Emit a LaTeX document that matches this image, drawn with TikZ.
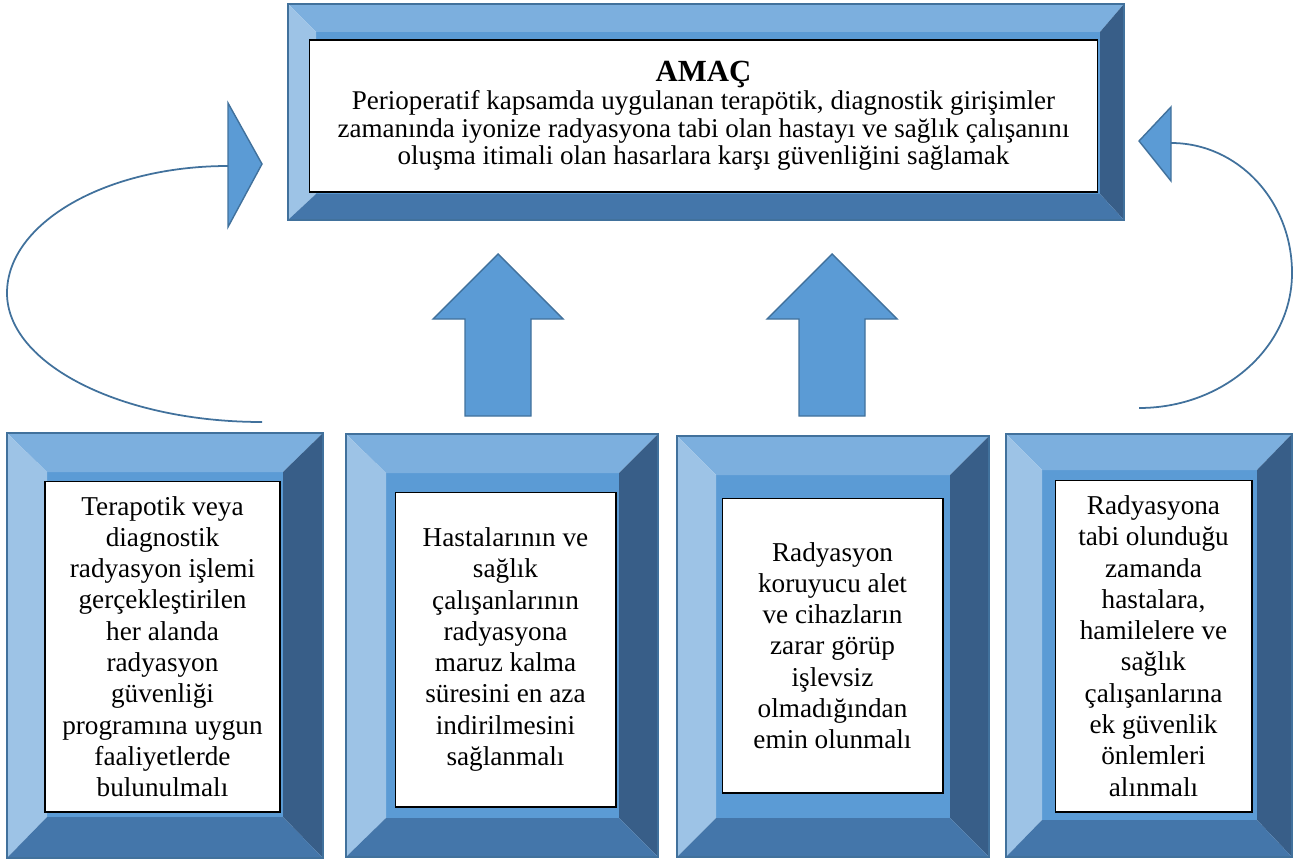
\documentclass[tikz,border=0pt]{standalone}
\usepackage{fontspec}
\setmainfont{Liberation Serif}

\definecolor{bvTop}{RGB}{124,175,222}
\definecolor{bvLeft}{RGB}{157,195,230}
\definecolor{bvRight}{RGB}{56,94,136}
\definecolor{bvBot}{RGB}{68,118,170}
\definecolor{bvIn}{RGB}{91,155,213}
\definecolor{edgeBlue}{RGB}{65,113,156}

\tikzset{
    txtbox/.style={draw=black,fill=white,line width=0.6pt,align=center,inner sep=0pt,
        font=\fontsize{15.5}{17.8}\selectfont},
    blockarrow/.style={fill=bvIn,draw=edgeBlue,line width=0.8pt},
    loopline/.style={draw=edgeBlue,line width=1pt},
}

% outer x1 y1 x2 y2, inner x1 y1 x2 y2
\newcommand{\bevelframe}[8]{%
    \fill[bvIn] (#5,#6) rectangle (#7,#8);
    \fill[bvTop] (#1,#2) -- (#3,#2) -- (#7,#6) -- (#5,#6) -- cycle;
    \fill[bvLeft] (#1,#2) -- (#5,#6) -- (#5,#8) -- (#1,#4) -- cycle;
    \fill[bvRight] (#3,#2) -- (#3,#4) -- (#7,#8) -- (#7,#6) -- cycle;
    \fill[bvBot] (#1,#4) -- (#5,#8) -- (#7,#8) -- (#3,#4) -- cycle;
    \draw[edgeBlue,line width=0.6pt] (#1,#2) rectangle (#3,#4);
}

\begin{document}
\begin{tikzpicture}[x=0.02cm,y=-0.02cm]
    \useasboundingbox (0,0) rectangle (1300,861);

    % frames
    \bevelframe{288}{4}{1124}{220}{316}{32}{1100}{194}
    \bevelframe{7}{433}{323}{858}{47}{472}{283}{817}
    \bevelframe{346}{434}{658}{857}{386}{473}{619}{818}
    \bevelframe{677}{436}{989}{857}{716}{475}{950}{818}
    \bevelframe{1006}{434}{1292}{857}{1042}{470}{1257}{820}

    % goal
    \node[txtbox,font=\fontsize{15.4}{15.8}\selectfont,
        minimum width=15.78cm,minimum height=3.04cm] (goal) at (703.5,116)
        {{\fontsize{17.5}{15.8}\selectfont\textbf{AMAÇ}}\\
        Perioperatif kapsamda uygulanan terapötik, diagnostik girişimler\\
        zamanında iyonize radyasyona tabi olan hastayı ve sağlık çalışanını\\
        oluşma itimali olan hasarlara karşı güvenliğini sağlamak};

    % steps
    \node[txtbox,minimum width=4.7cm,minimum height=6.62cm] (stepA) at (162.5,646.5)
        {Terapotik veya\\diagnostik\\radyasyon işlemi\\gerçekleştirilen\\her alanda\\radyasyon\\güvenliği\\programına uygun\\faaliyetlerde\\bulunulmalı};
    \node[txtbox,minimum width=4.42cm,minimum height=6.3cm] (stepB) at (505.5,649.5)
        {Hastalarının ve\\sağlık\\çalışanlarının\\radyasyona\\maruz kalma\\süresini en aza\\indirilmesini\\sağlanmalı};
    \node[txtbox,minimum width=4.42cm,minimum height=5.9cm] (stepC) at (832.5,645.5)
        {Radyasyon\\koruyucu alet\\ve cihazların\\zarar görüp\\işlevsiz\\olmadığından\\emin olunmalı};
    \node[txtbox,minimum width=3.94cm,minimum height=6.64cm] (stepD) at (1153.5,646)
        {Radyasyona\\tabi olunduğu\\zamanda\\hastalara,\\hamilelere ve\\sağlık\\çalışanlarına\\ek güvenlik\\önlemleri\\alınmalı};

    % block arrows up
    \foreach \c in {498,832}
        \draw[blockarrow] (\c-33,416) -- (\c-33,319) -- (\c-65,319) -- (\c,254)
            -- (\c+65,319) -- (\c+33,319) -- (\c+33,416) -- cycle;

    % side loops
    \coordinate (loopL) at (262,422);
    \coordinate (loopR) at (1139,408);
    \draw[loopline] (loopL) .. controls (121,422) and (7,364) .. (7,293)
        .. controls (7,223) and (106,166) .. (228,166);
    \draw[blockarrow] (228,103) -- (262,164) -- (228,227) -- cycle;
    \draw[loopline] (loopR) .. controls (1223,408) and (1292,348) .. (1292,273)
        .. controls (1292,201) and (1238,143) .. (1171,143);
    \draw[blockarrow] (1171,107) -- (1139,141) -- (1171,181) -- cycle;
\end{tikzpicture}
\end{document}
